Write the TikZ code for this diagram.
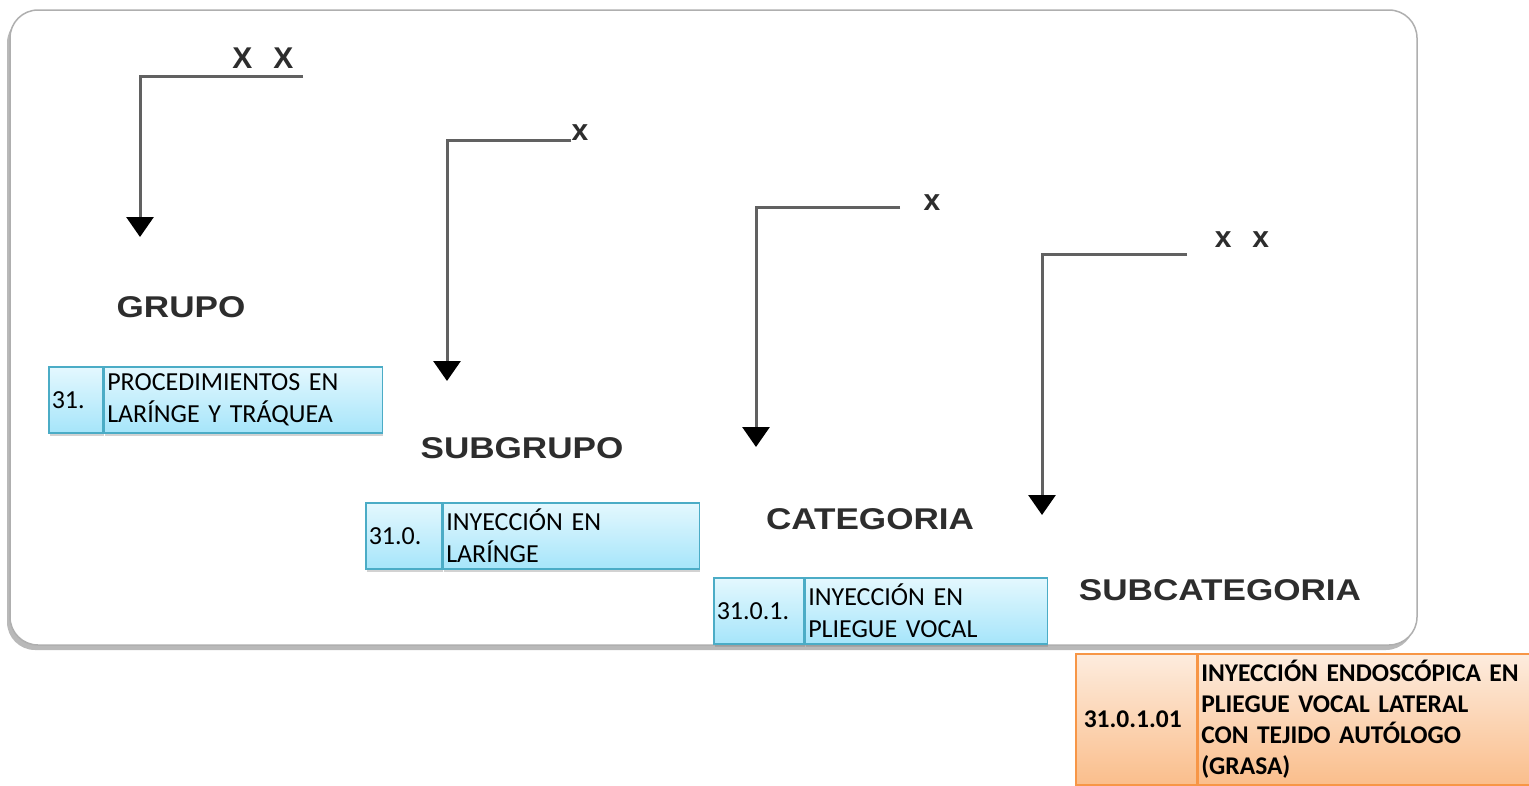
\documentclass[tikz,border=0pt]{standalone}
\usepackage{fontspec}
\setmainfont{Carlito}
\newfontfamily\lblfont{Liberation Sans}
\usetikzlibrary{arrows.meta,positioning,shadows}
\definecolor{cellline}{RGB}{75,172,198}
\definecolor{celltop}{RGB}{228,248,254}
\definecolor{cellbot}{RGB}{166,229,250}
\definecolor{orgline}{RGB}{247,150,70}
\definecolor{orgtop}{RGB}{253,236,222}
\definecolor{orgbot}{RGB}{250,190,140}
\definecolor{lvlgray}{RGB}{45,45,45}
\definecolor{framegray}{RGB}{175,175,175}

\begin{document}
\begin{tikzpicture}[x=1pt,y=-1pt,
  lvl/.style={font=\lblfont\bfseries\fontsize{30}{36}\selectfont, text=lvlgray},
  mark x/.style={font=\lblfont\bfseries\fontsize{30}{36}\selectfont, text=lvlgray, inner sep=0pt},
  levelarrow/.style={line width=3pt, draw=black!62,
    -{Triangle[width=27pt,length=20pt,color=black,fill=black]}},
  cellbox/.style={rectangle, draw=cellline, line width=1.5pt,
    top color=celltop, bottom color=cellbot, inner ysep=0pt, inner xsep=3pt,
    align=left, minimum height=66, font=\fontsize{26}{32}\selectfont,
    drop shadow={shadow xshift=1pt, shadow yshift=-3pt, opacity=0.35}},
  orgbox/.style={cellbox, draw=orgline, top color=orgtop, bottom color=orgbot,
    minimum height=131, font=\bfseries\fontsize{25.5}{31}\selectfont}
]
\useasboundingbox (0,0) rectangle (1529,785);
% -- Frame --
\draw[framegray, line width=1.5pt, fill=white, rounded corners=28pt,
  drop shadow={shadow xshift=-3pt, shadow yshift=-5pt, opacity=0.55}]
  (10,10) rectangle (1417,645);
% -- Grupo --
\node[mark x] (xg) at (263,58) {X\hspace{0.7em}X};
\coordinate (g0) at (303,76);
\coordinate (gk) at (140,76);
\coordinate (g1) at (140,237);
\draw[levelarrow] (g0) -- (gk) -- (g1);
\node[lvl] (grupo) at (181,307) {\scalebox{1.17}[1]{GRUPO}};
% -- Subgrupo --
\node[mark x] (xs) at (580,133) {x};
\coordinate (s0) at (xs.south west);
\coordinate (sk) at (447,140);
\coordinate (s1) at (447,381);
\draw[levelarrow] (s0 |- sk) -- (sk) -- (s1);
\node[lvl] (subgrupo) at (522,448) {\scalebox{1.17}[1]{SUBGRUPO}};
% -- Categoria --
\node[mark x] (xc) at (932,203) {x};
\coordinate (c0) at (900,207);
\coordinate (ck) at (756,207);
\coordinate (c1) at (756,447);
\draw[levelarrow] (c0) -- (ck) -- (c1);
\node[lvl] (categoria) at (870,519) {\scalebox{1.17}[1]{CATEGORIA}};
% -- Subcategoria --
\node[mark x] (xsc) at (1242,240) {x\hspace{0.7em}x};
\coordinate (sc0) at (1187,254);
\coordinate (sck) at (1042,254);
\coordinate (sc1) at (1042,515);
\draw[levelarrow] (sc0) -- (sck) -- (sc1);
\node[lvl] (subcat) at (1220,590) {\scalebox{1.17}[1]{SUBCATEGORIA}};
% -- Code boxes --
\node[cellbox, anchor=north west, minimum width=54, text width=48] (n31) at (48,366) {31.};
\node[cellbox, right=0pt of n31, minimum width=278, text width=272] (d31)
  {PROCEDIMIENTOS EN\\LARÍNGE Y TRÁQUEA};
\node[cellbox, anchor=north west, minimum width=76, text width=70] (n310) at (365,502) {31.0.};
\node[cellbox, right=0pt of n310, minimum width=256, text width=250] (d310)
  {INYECCIÓN EN\\LARÍNGE};
\node[cellbox, anchor=north west, minimum width=90, text width=84] (n3101) at (713,577) {31.0.1.};
\node[cellbox, right=0pt of n3101, minimum width=242, text width=236] (d3101)
  {INYECCIÓN EN\\PLIEGUE VOCAL};
\node[orgbox, anchor=north west, inner xsep=8pt, minimum width=121, text width=105] (n310101)
  at (1075,653) {31.0.1.01};
\node[orgbox, right=0pt of n310101, minimum width=331, text width=325] (d310101)
  {INYECCIÓN ENDOSCÓPICA EN\\PLIEGUE VOCAL LATERAL\\CON TEJIDO AUTÓLOGO\\(GRASA)};
\end{tikzpicture}
\end{document}
